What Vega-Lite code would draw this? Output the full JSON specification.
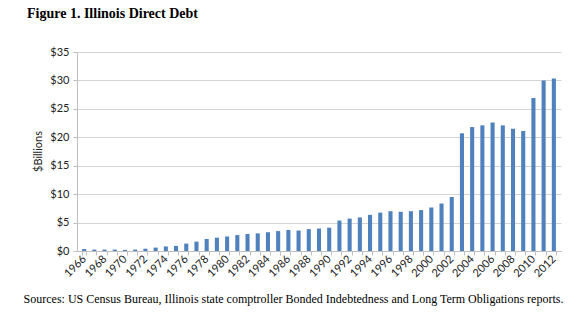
{
  "$schema": "https://vega.github.io/schema/vega-lite/v6.json",
  "autosize": {"type": "none"},
  "width": 484,
  "height": 199,
  "padding": {"left": 77, "top": 52, "right": 19, "bottom": 78},
  "background": "white",
  "title": {
    "text": "Figure 1. Illinois Direct Debt",
    "anchor": "start",
    "frame": "group",
    "font": "Liberation Serif",
    "fontSize": 14,
    "fontWeight": "bold",
    "color": "#000000",
    "baseline": "alphabetic",
    "dx": -50,
    "offset": 14
  },
  "data": {
    "values": [
      {"year": "1966", "debt": 0.35}, {"year": "1967", "debt": 0.25}, {"year": "1968", "debt": 0.25},
      {"year": "1969", "debt": 0.25}, {"year": "1970", "debt": 0.2}, {"year": "1971", "debt": 0.25},
      {"year": "1972", "debt": 0.4}, {"year": "1973", "debt": 0.6}, {"year": "1974", "debt": 0.8},
      {"year": "1975", "debt": 0.9}, {"year": "1976", "debt": 1.3}, {"year": "1977", "debt": 1.65},
      {"year": "1978", "debt": 2.1}, {"year": "1979", "debt": 2.35}, {"year": "1980", "debt": 2.55},
      {"year": "1981", "debt": 2.8}, {"year": "1982", "debt": 3.0}, {"year": "1983", "debt": 3.1},
      {"year": "1984", "debt": 3.3}, {"year": "1985", "debt": 3.5}, {"year": "1986", "debt": 3.7},
      {"year": "1987", "debt": 3.6}, {"year": "1988", "debt": 3.85}, {"year": "1989", "debt": 3.95},
      {"year": "1990", "debt": 4.1}, {"year": "1991", "debt": 5.35}, {"year": "1992", "debt": 5.7},
      {"year": "1993", "debt": 5.9}, {"year": "1994", "debt": 6.35}, {"year": "1995", "debt": 6.75},
      {"year": "1996", "debt": 7.0}, {"year": "1997", "debt": 6.9}, {"year": "1998", "debt": 7.0},
      {"year": "1999", "debt": 7.2}, {"year": "2000", "debt": 7.65}, {"year": "2001", "debt": 8.35},
      {"year": "2002", "debt": 9.5}, {"year": "2003", "debt": 20.7}, {"year": "2004", "debt": 21.8},
      {"year": "2005", "debt": 22.1}, {"year": "2006", "debt": 22.6}, {"year": "2007", "debt": 22.1},
      {"year": "2008", "debt": 21.5}, {"year": "2009", "debt": 21.1}, {"year": "2010", "debt": 26.9},
      {"year": "2011", "debt": 30.0}, {"year": "2012", "debt": 30.35}
    ]
  },
  "mark": {"type": "bar", "color": "#4F81BD"},
  "encoding": {
    "x": {
      "field": "year",
      "type": "ordinal",
      "sort": null,
      "scale": {"paddingInner": 0.6, "paddingOuter": 0.5},
      "axis": {
        "title": "Sources: US Census Bureau, Illinois state comptroller Bonded Indebtedness and Long Term Obligations reports.",
        "titleFont": "Liberation Serif",
        "titleFontSize": 12,
        "titleFontWeight": "normal",
        "titleColor": "#000000",
        "titleX": 216,
        "titleY": 47,
        "titleAlign": "center",
        "titleBaseline": "middle",
        "labelExpr": "parseInt(datum.value) % 2 == 0 ? datum.value : ''",
        "labelAngle": -45,
        "labelAlign": "right",
        "labelBaseline": "middle",
        "labelFont": "Lato",
        "labelFontSize": 11,
        "labelColor": "#222222",
        "labelPadding": 2,
        "labelOverlap": false,
        "domainColor": "#bfbfbf",
        "tickColor": "#bfbfbf",
        "tickSize": 4,
        "tickBand": "extent",
        "grid": false
      }
    },
    "y": {
      "field": "debt",
      "type": "quantitative",
      "scale": {"domain": [0, 35]},
      "axis": {
        "title": "$Billions",
        "titleFont": "Lato",
        "titleFontSize": 11,
        "titleFontWeight": "normal",
        "titleColor": "#222222",
        "titleX": -39,
        "titleY": 99,
        "titleAlign": "center",
        "titleBaseline": "middle",
        "titleAngle": -90,
        "values": [0, 5, 10, 15, 20, 25, 30, 35],
        "labelExpr": "'$' + datum.value",
        "labelFont": "Lato",
        "labelFontSize": 11,
        "labelColor": "#222222",
        "labelPadding": 4,
        "domainColor": "#bfbfbf",
        "tickColor": "#bfbfbf",
        "tickSize": 4,
        "gridColor": "#d4d4d4",
        "grid": true
      }
    }
  },
  "config": {"view": {"stroke": null}}
}
